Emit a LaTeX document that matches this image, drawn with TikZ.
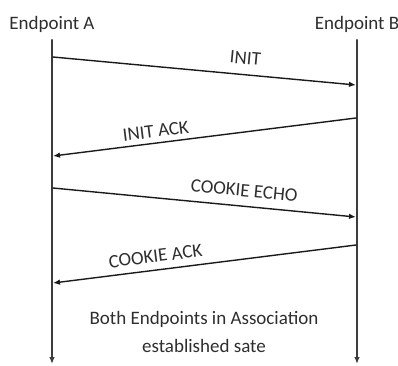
\documentclass[tikz,border=0pt]{standalone}
\usepackage{fontspec}
\setmainfont{Carlito}
\usepackage{xcolor}
\usepackage{tikz}
\usetikzlibrary{arrows.meta,calc,positioning}
\definecolor{seqline}{HTML}{1A1A1A}
\definecolor{seqlife}{HTML}{3C3C3C}
\definecolor{seqtext}{HTML}{2E2E2E}
\tikzset{
every picture/.style={line cap=round,line join=round},
>={Latex[length=7pt,width=5.6pt]},
endpoint label/.style={
  font=\fontsize{19}{23}\selectfont,
  text=seqtext,
  inner sep=1pt
},
life line/.style={
  draw=seqlife,
  ->,
  line width=2.1pt
},
msg flow/.style={
  draw=seqline,
  ->,
  line width=1.4pt
},
msg label/.style={font=\fontsize{19}{23}\selectfont, text=seqtext, inner sep=1pt, sloped},
fig label/.style={font=\fontsize{19}{28}\selectfont, text=seqtext, align=center}
}
\begin{document}
\begin{tikzpicture}[x=1pt,y=-1pt]
\useasboundingbox (0,0) rectangle (398,365);
\node[endpoint label] (epA) at (52,24) {Endpoint A};
\node[endpoint label] (epB) at (357,24) {Endpoint B};
% lifelines
\coordinate (aTop) at (52,40);
\coordinate (bTop) at (357,40);
\coordinate (aEnd) at (52,364);
\coordinate (bEnd) at (357,364);
\draw[life line] (aTop) -- (aEnd);
\draw[life line] (bTop) -- (bEnd);
% message ends
\coordinate (a1) at (53,57);
\coordinate (b1) at (356,85);
\coordinate (b2) at (356,118);
\coordinate (a2) at (53,156);
\coordinate (a3) at (53,188);
\coordinate (b3) at (356,217);
\coordinate (b4) at (356,245);
\coordinate (a4) at (53,283);
\draw[msg flow] (a1) -- node[msg label,pos=0.63,above=9pt] (init) {INIT} (b1);
\draw[msg flow] (b2) -- node[msg label,pos=0.656,above=4pt] (initack) {INIT ACK} (a2);
\draw[msg flow] (a3) -- node[msg label,pos=0.626,above=8pt] (echo) {COOKIE ECHO} (b3);
\draw[msg flow] (b4) -- node[msg label,pos=0.656,above=6pt] (cack) {COOKIE ACK} (a4);
\node[fig label] (estab) at (204,332) {Both Endpoints in Association\\established sate};
\end{tikzpicture}
\end{document}
